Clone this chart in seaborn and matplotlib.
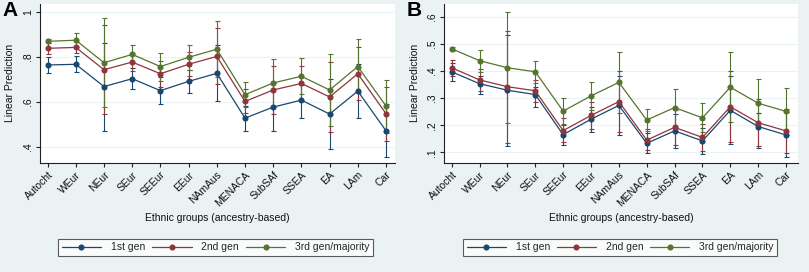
import numpy as np
import pandas as pd
import matplotlib
matplotlib.use("Agg")
import matplotlib.pyplot as plt
from matplotlib.lines import Line2D
import seaborn as sns

categories = ["Autocht", "WEur", "NEur", "SEur", "SEEur", "EEur", "NAmAus",
              "MENACA", "SubSAf", "SSEA", "EA", "LAm", "Car"]
series_names = ["1st gen", "2nd gen", "3rd gen/majority"]

# Panel A
a_gen1 = [0.763, 0.766, 0.667, 0.702, 0.649, 0.690, 0.726, 0.527, 0.576, 0.607, 0.545, 0.647, 0.471]
a_gen1_lo = [0.726, 0.730, 0.470, 0.656, 0.590, 0.640, 0.603, 0.471, 0.471, 0.529, 0.388, 0.529, 0.353]
a_gen1_hi = [0.797, 0.803, 0.862, 0.748, 0.708, 0.741, 0.852, 0.581, 0.681, 0.674, 0.701, 0.766, 0.590]
a_gen2 = [0.837, 0.841, 0.742, 0.776, 0.724, 0.766, 0.801, 0.601, 0.652, 0.681, 0.621, 0.724, 0.547]
a_gen2_lo = [0.810, 0.815, 0.545, 0.738, 0.664, 0.713, 0.679, 0.548, 0.545, 0.604, 0.464, 0.607, 0.427]
a_gen2_hi = [0.862, 0.867, 0.941, 0.815, 0.782, 0.819, 0.926, 0.655, 0.759, 0.760, 0.778, 0.844, 0.667]
a_gen3 = [0.868, 0.873, 0.773, 0.810, 0.756, 0.797, 0.833, 0.631, 0.683, 0.713, 0.652, 0.756, 0.581]
a_gen3_lo = [0.859, 0.841, 0.575, 0.770, 0.693, 0.741, 0.708, 0.575, 0.578, 0.633, 0.493, 0.637, 0.462]
a_gen3_hi = [0.877, 0.907, 0.970, 0.852, 0.818, 0.852, 0.957, 0.689, 0.788, 0.796, 0.810, 0.877, 0.696]

# Panel B
b_gen1 = [0.397, 0.353, 0.329, 0.313, 0.165, 0.222, 0.273, 0.133, 0.179, 0.142, 0.255, 0.195, 0.164]
b_gen1_lo = [0.364, 0.314, 0.125, 0.268, 0.127, 0.176, 0.164, 0.096, 0.117, 0.094, 0.131, 0.115, 0.084]
b_gen1_hi = [0.428, 0.381, 0.532, 0.342, 0.201, 0.268, 0.381, 0.172, 0.240, 0.188, 0.381, 0.244, 0.250]
b_gen2 = [0.412, 0.367, 0.342, 0.327, 0.180, 0.236, 0.287, 0.145, 0.192, 0.155, 0.268, 0.209, 0.179]
b_gen2_lo = [0.381, 0.327, 0.136, 0.287, 0.139, 0.185, 0.176, 0.109, 0.127, 0.106, 0.139, 0.123, 0.099]
b_gen2_hi = [0.440, 0.406, 0.547, 0.367, 0.225, 0.287, 0.400, 0.185, 0.256, 0.204, 0.400, 0.295, 0.261]
b_gen3 = [0.482, 0.438, 0.412, 0.397, 0.252, 0.308, 0.358, 0.219, 0.265, 0.227, 0.340, 0.281, 0.251]
b_gen3_lo = [0.475, 0.397, 0.207, 0.357, 0.204, 0.256, 0.246, 0.179, 0.197, 0.176, 0.211, 0.195, 0.164]
b_gen3_hi = [0.489, 0.477, 0.618, 0.438, 0.299, 0.360, 0.471, 0.258, 0.332, 0.281, 0.471, 0.369, 0.336]

a_ticks = [0.4, 0.6, 0.8, 1.0]
a_ticklabels = [".4", ".6", ".8", "1"]
b_ticks = [0.1, 0.2, 0.3, 0.4, 0.5, 0.6]
b_ticklabels = [".1", ".2", ".3", ".4", ".5", ".6"]

colors = {"1st gen": "#1A476F", "2nd gen": "#90353B", "3rd gen/majority": "#55752F"}
BG = "#EAF2F3"

sns.set_theme(style="white")
plt.rcParams["font.family"] = ["Liberation Sans", "DejaVu Sans"]

fig = plt.figure(figsize=(8.09, 2.72), dpi=100, facecolor=BG)

W, H = 809.0, 272.0


def make_df(vals):
    rows = []
    for name, v in zip(series_names, vals):
        for i, c in enumerate(categories):
            rows.append({"pos": i, "value": v[i], "gen": name})
    return pd.DataFrame(rows)


def draw_panel(x0, rect_px, xlim, ylim, means, los, his, ticks, ticklabels, label, leg_px):
    l, r, t, b = rect_px
    ax = fig.add_axes([l / W, 1 - b / H, (r - l) / W, (b - t) / H])
    ax.set_facecolor("white")
    for name, m, lo, hi in zip(series_names, means, los, his):
        m = np.array(m); lo = np.array(lo); hi = np.array(hi)
        ax.errorbar(np.arange(len(categories)), m, yerr=[m - lo, hi - m],
                    fmt="none", ecolor=colors[name], elinewidth=0.8,
                    capsize=1.8, capthick=0.8, zorder=2)
    df = make_df(means)
    sns.lineplot(data=df, x="pos", y="value", hue="gen", palette=colors,
                 marker="o", markersize=4.4, markeredgewidth=0, linewidth=0.9,
                 legend=False, ax=ax, zorder=3)
    ax.set_xlim(*xlim)
    ax.set_ylim(*ylim)
    ax.set_xticks(range(len(categories)))
    ax.set_xticklabels(categories, rotation=45, ha="right",
                       rotation_mode="anchor", fontsize=7.5, color="#111111")
    ax.set_yticks(ticks)
    ax.set_yticklabels(ticklabels, rotation=90, va="center", fontsize=7.5,
                       color="#111111")
    ax.grid(axis="y", color=BG, linewidth=0.8)
    ax.grid(axis="x", visible=False)
    ax.set_axisbelow(True)
    for s in ["top", "right"]:
        ax.spines[s].set_visible(False)
    for s in ["left", "bottom"]:
        ax.spines[s].set_color("#222222")
        ax.spines[s].set_linewidth(0.8)
    ax.tick_params(axis="both", which="major", direction="out", length=3,
                   width=0.8, color="#222222", pad=2, left=True, bottom=True)
    ax.set_xlabel("Ethnic groups (ancestry-based)", fontsize=7.5, color="#111111")
    ax.set_ylabel("Linear Prediction", fontsize=7.5, color="#111111")
    ax.xaxis.set_label_coords(0.5, -(213 - b) / (b - t))
    ax.yaxis.set_label_coords(-(l - (x0 + 15)) / (r - l), 0.5)
    # panel letter
    fig.text((x0 + 2) / W, 1 - 1 / H, label, fontsize=15, fontweight="bold",
             va="top", ha="left", color="black")
    # legend
    lx0, ly0, lx1, ly1 = leg_px
    handles = [Line2D([0], [0], color=colors[n], marker="o", markersize=4.4,
                      markeredgewidth=0, linewidth=0.9) for n in series_names]
    leg = fig.legend(handles, series_names, ncol=3,
                     bbox_to_anchor=(lx0 / W, 1 - ly1 / H, (lx1 - lx0) / W, (ly1 - ly0) / H),
                     loc="center", mode="expand", fontsize=7.5, frameon=True,
                     fancybox=False, edgecolor="#333333", facecolor="white",
                     handlelength=3.8, handletextpad=0.9, columnspacing=1.2,
                     borderpad=0.35, borderaxespad=0)
    leg.get_frame().set_linewidth(0.8)
    return ax


draw_panel(0, (40, 395, 3.5, 162.7), (-0.27, 12.32), (0.329, 1.036),
           [a_gen1, a_gen2, a_gen3], [a_gen1_lo, a_gen2_lo, a_gen3_lo],
           [a_gen1_hi, a_gen2_hi, a_gen3_hi], a_ticks, a_ticklabels, "A",
           (58, 237, 373, 258))
draw_panel(405, (444.3, 798, 3.5, 162.7), (-0.266, 12.43), (0.0616, 0.649),
           [b_gen1, b_gen2, b_gen3], [b_gen1_lo, b_gen2_lo, b_gen3_lo],
           [b_gen1_hi, b_gen2_hi, b_gen3_hi], b_ticks, b_ticklabels, "B",
           (463, 237, 777, 258))

fig.savefig("out.png", dpi=100, facecolor=BG)
